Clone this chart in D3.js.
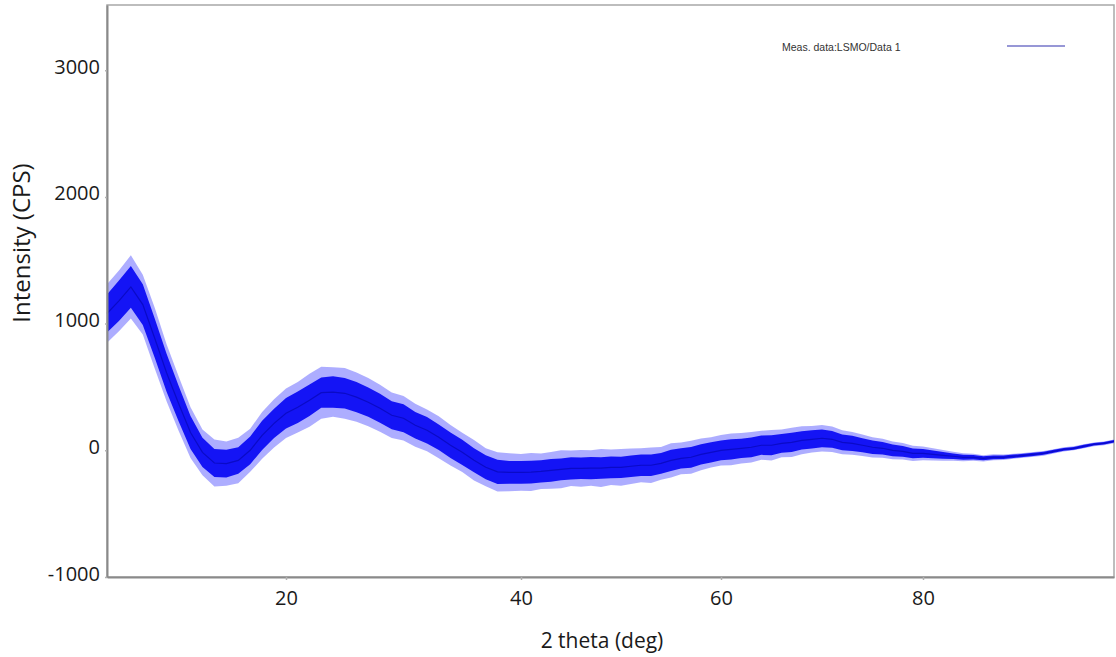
<!DOCTYPE html>
<html>
<head>
<meta charset="utf-8">
<script src="https://cdn.jsdelivr.net/npm/d3@7"></script>
<style>
  body { margin: 0; background: #fff; }
  text { font-family: "Open Sans", sans-serif; }
</style>
</head>
<body>
<div id="chart"></div>
<script>
// 2 theta sampling (deg)
const twoTheta = [5,6,7,8,9,10,11,12,13,14,15,16,17,18,19,20,21,22,23,24,25,26,27,28,29,30,
  31,32,33,34,35,36,37,38,39,40,41,42,43,44,45,46,47,48,49,50,51,52,53,54,55,56,57,58,59,60,
  61,62,63,64,65,66,67,68,69,70,71,72,73,74,75,76,77,78,79,80,81,82,83,84,85,86,87,88,89,90,
  91,92,93,94,95,96,97,98,99];

// middle of the noisy trace (CPS)
const intensity = [1080,1180,1290,1150,885,610,370,140,-16,-100,-105,-80,0,118,213,292,
  340,395,455,460,450,420,380,332,277,253,198,158,103,40,-16,-79,-134,-170,-174,-174,
  -172,-166,-158,-150,-142,-142,-140,-140,-134,-134,-126,-118,-118,-103,-79,-63,-55,-32,-16,0,
  8,16,24,40,40,55,63,79,87,95,87,63,55,40,24,16,0,-8,-24,-24,
  -32,-40,-47,-55,-55,-63,-55,-55,-47,-40,-32,-24,-8,8,16,32,47,55,71];

// half width of the dense band and of the spikes (CPS)
const coreHalf = [150,160,165,160,155,150,140,130,115,110,110,105,110,115,115,120,
  125,125,120,125,120,120,115,115,110,110,105,105,100,100,100,95,95,95,90,90,
  90,88,90,86,88,85,88,85,86,84,85,84,85,82,84,80,82,80,80,78,
  80,76,78,76,78,74,76,72,72,70,66,62,60,56,54,50,46,42,38,34,
  30,26,22,20,18,16,15,14,13,13,12,12,12,11,11,11,10,10,10];
const spikeHalf = [230,240,250,235,240,225,215,200,180,185,175,180,170,185,190,195,
  200,210,205,195,200,195,190,185,180,175,170,165,165,160,155,160,150,155,150,145,
  150,140,145,150,140,145,140,150,140,145,140,135,140,130,135,125,130,125,120,120,
  125,120,120,115,120,110,115,110,105,105,100,95,90,85,80,75,70,65,60,55,
  48,42,36,32,28,25,23,21,20,19,18,18,17,17,16,16,15,15,15];

const xTicks = [20, 40, 60, 80];
const yTicks = [-1000, 0, 1000, 2000, 3000];
const legendLabel = 'Meas. data:LSMO/Data 1';

const data = twoTheta.map((t, i) => ({
  t: t, v: intensity[i], core: coreHalf[i], spike: spikeHalf[i]
}));

const W = 1116, H = 657;
const margin = { top: 5, right: 2, bottom: 80, left: 107 },
  width = W - margin.left - margin.right,
  height = H - margin.top - margin.bottom;

let svg = d3.select('#chart')
  .append('svg')
  .attr('width', W)
  .attr('height', H)
  .append('g')
  .attr('transform', 'translate(' + margin.left + ',' + margin.top + ')');

// the scanned axis is not evenly spaced, so the scale is piecewise
let x = d3.scaleLinear()
  .domain([5, 20, 40, 60, 80, 99])
  .range([0, 179, 414, 614, 816, width]);

let y = d3.scaleLinear()
  .domain([-1000, 3515])
  .range([height, 0]);

// frame
svg.append('rect')
  .attr('x', 0).attr('y', 0)
  .attr('width', width).attr('height', height)
  .attr('fill', 'none')
  .attr('stroke', '#a8a8a8')
  .attr('stroke-width', 1.5);

// data band
const spikeArea = d3.area()
  .x(d => x(d.t))
  .y0(d => y(d.v - d.spike))
  .y1(d => y(d.v + d.spike));
const coreArea = d3.area()
  .x(d => x(d.t))
  .y0(d => y(d.v - d.core))
  .y1(d => y(d.v + d.core));

svg.append('path')
  .datum(data)
  .attr('d', spikeArea)
  .attr('fill', '#5c5cff')
  .attr('opacity', 0.5);

svg.append('path')
  .datum(data)
  .attr('d', coreArea)
  .attr('fill', '#1414f5');

svg.append('path')
  .datum(data)
  .attr('d', d3.line().x(d => x(d.t)).y(d => y(d.v)))
  .attr('fill', 'none')
  .attr('stroke', '#00009a')
  .attr('stroke-width', 1.2)
  .attr('opacity', 0.5);

// axes
let xAxis = svg.append('g')
  .attr('transform', 'translate(0,' + height + ')')
  .call(d3.axisBottom(x).tickValues(xTicks).tickSize(3).tickPadding(11).tickSizeOuter(0));

let yAxis = svg.append('g')
  .call(d3.axisLeft(y).tickValues(yTicks).tickFormat(d => String(d))
    .tickSize(2).tickPadding(5).tickSizeOuter(0));

[xAxis, yAxis].forEach(g => {
  g.select('.domain').attr('stroke', '#8a8a8a').attr('stroke-width', 2);
  g.selectAll('.tick line').attr('stroke', '#b0b0b0').attr('stroke-width', 1.5);
  g.selectAll('.tick text')
    .style('font-family', '"Open Sans", sans-serif')
    .style('font-size', '20px')
    .attr('fill', '#1a1a1a');
});
yAxis.selectAll('.tick text').attr('dy', '0.15em');

// axis titles
svg.append('text')
  .attr('x', 602 - margin.left)
  .attr('y', 648 - margin.top)
  .style('text-anchor', 'middle')
  .style('font-size', '21px')
  .attr('fill', '#1a1a1a')
  .text('2 theta (deg)');

svg.append('text')
  .attr('transform', 'translate(' + (30 - margin.left) + ',' + (243 - margin.top) + ') rotate(-90)')
  .style('text-anchor', 'middle')
  .style('font-size', '24px')
  .attr('fill', '#1a1a1a')
  .text('Intensity (CPS)');

// legend
svg.append('text')
  .attr('x', 782 - margin.left)
  .attr('y', 51 - margin.top)
  .style('font-family', '"Liberation Sans", Arial, sans-serif')
  .style('font-size', '10.5px')
  .attr('fill', '#333')
  .text(legendLabel);

svg.append('line')
  .attr('x1', 1007 - margin.left)
  .attr('x2', 1065 - margin.left)
  .attr('y1', 46 - margin.top)
  .attr('y2', 46 - margin.top)
  .attr('stroke', '#7474c8')
  .attr('stroke-width', 1.5);
</script>
</body>
</html>
